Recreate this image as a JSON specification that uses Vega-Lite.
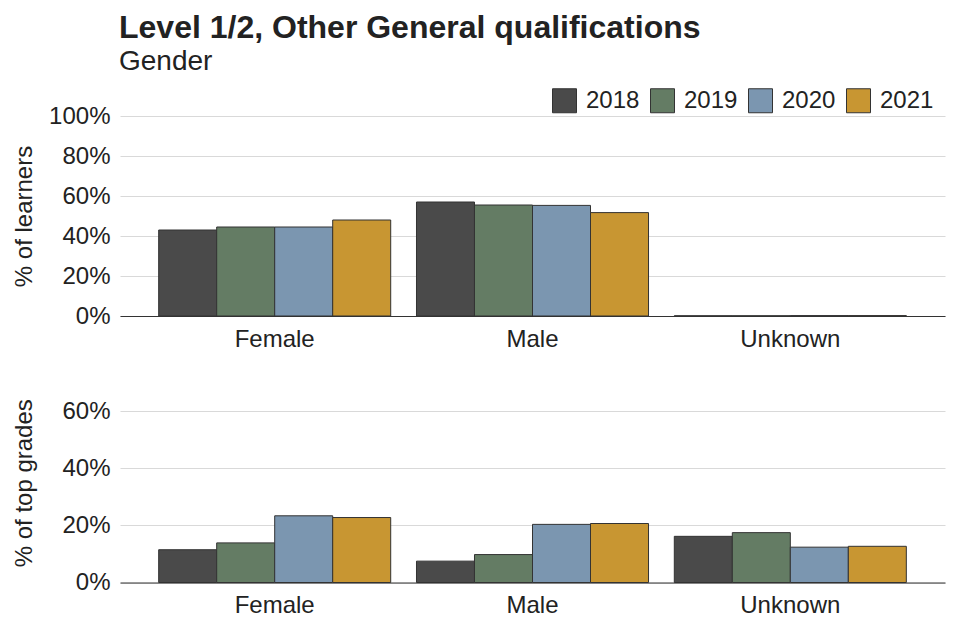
{
  "$schema": "https://vega.github.io/schema/vega-lite/v6.json",
  "background": "white",
  "padding": {"left": 11, "top": 12, "right": 15, "bottom": 0},
  "title": {
    "text": "Level 1/2, Other General qualifications",
    "subtitle": "Gender",
    "anchor": "start",
    "font": "Liberation Sans",
    "fontSize": 32,
    "fontWeight": "bold",
    "color": "#222222",
    "subtitleFont": "Liberation Sans",
    "subtitleFontSize": 28,
    "subtitleColor": "#222222",
    "subtitlePadding": 3,
    "dx": 107,
    "offset": 11
  },
  "datasets": {
    "d": [
      {"panel": "learners", "Gender": "Female", "Year": "2018", "value": 0.43},
      {"panel": "learners", "Gender": "Female", "Year": "2019", "value": 0.445},
      {"panel": "learners", "Gender": "Female", "Year": "2020", "value": 0.445},
      {"panel": "learners", "Gender": "Female", "Year": "2021", "value": 0.48},
      {"panel": "learners", "Gender": "Male", "Year": "2018", "value": 0.57},
      {"panel": "learners", "Gender": "Male", "Year": "2019", "value": 0.555},
      {"panel": "learners", "Gender": "Male", "Year": "2020", "value": 0.553},
      {"panel": "learners", "Gender": "Male", "Year": "2021", "value": 0.517},
      {"panel": "learners", "Gender": "Unknown", "Year": "2018", "value": 0.001},
      {"panel": "learners", "Gender": "Unknown", "Year": "2019", "value": 0.001},
      {"panel": "learners", "Gender": "Unknown", "Year": "2020", "value": 0.002},
      {"panel": "learners", "Gender": "Unknown", "Year": "2021", "value": 0.002},
      {"panel": "top", "Gender": "Female", "Year": "2018", "value": 0.115},
      {"panel": "top", "Gender": "Female", "Year": "2019", "value": 0.139},
      {"panel": "top", "Gender": "Female", "Year": "2020", "value": 0.234},
      {"panel": "top", "Gender": "Female", "Year": "2021", "value": 0.228},
      {"panel": "top", "Gender": "Male", "Year": "2018", "value": 0.075},
      {"panel": "top", "Gender": "Male", "Year": "2019", "value": 0.098},
      {"panel": "top", "Gender": "Male", "Year": "2020", "value": 0.204},
      {"panel": "top", "Gender": "Male", "Year": "2021", "value": 0.207},
      {"panel": "top", "Gender": "Unknown", "Year": "2018", "value": 0.162},
      {"panel": "top", "Gender": "Unknown", "Year": "2019", "value": 0.175},
      {"panel": "top", "Gender": "Unknown", "Year": "2020", "value": 0.124},
      {"panel": "top", "Gender": "Unknown", "Year": "2021", "value": 0.127}
    ]
  },
  "config": {
    "view": {"stroke": null},
    "font": "Liberation Sans",
    "axis": {
      "labelFont": "Liberation Sans",
      "titleFont": "Liberation Sans",
      "labelFontSize": 24,
      "titleFontSize": 24,
      "titleFontWeight": "normal",
      "labelColor": "#222222",
      "titleColor": "#222222"
    },
    "concat": {"spacing": 32}
  },
  "vconcat": [
    {
      "width": 825,
      "height": 200,
      "data": {"name": "d"},
      "transform": [{"filter": "datum.panel === 'learners'"}],
      "mark": {"type": "bar", "stroke": "#333333", "strokeWidth": 1},
      "encoding": {
        "x": {
          "field": "Gender", "type": "nominal",
          "scale": {"paddingInner": 0.1, "paddingOuter": 0.15},
          "axis": {"title": null, "labelAngle": 0, "ticks": false, "domainColor": "#333333", "domainWidth": 1.2, "labelPadding": 11}
        },
        "xOffset": {"field": "Year", "type": "nominal", "scale": {"paddingInner": 0}},
        "y": {
          "field": "value", "type": "quantitative",
          "scale": {"domain": [0, 1], "nice": false},
          "axis": {"title": "% of learners", "format": ".0%", "values": [0, 0.2, 0.4, 0.6, 0.8, 1], "domain": false, "ticks": false, "gridColor": "#d9d9d9", "labelPadding": 10, "titleX": -84}
        },
        "fill": {
          "field": "Year", "type": "nominal",
          "scale": {"domain": ["2018", "2019", "2020", "2021"], "range": ["#4a4a4a", "#647c64", "#7b96b0", "#c89632"]},
          "legend": {
            "title": null, "orient": "none", "direction": "horizontal",
            "legendX": 432, "legendY": -28,
            "symbolType": "square", "symbolSize": 576, "symbolStrokeColor": "#333333", "symbolStrokeWidth": 1,
            "labelFontSize": 24, "labelFont": "Liberation Sans", "labelColor": "#222222",
            "columnPadding": 8, "labelOffset": 9
          }
        }
      }
    },
    {
      "width": 825,
      "height": 199.5,
      "data": {"name": "d"},
      "transform": [{"filter": "datum.panel === 'top'"}],
      "mark": {"type": "bar", "stroke": "#333333", "strokeWidth": 1},
      "encoding": {
        "x": {
          "field": "Gender", "type": "nominal",
          "scale": {"paddingInner": 0.1, "paddingOuter": 0.15},
          "axis": {"title": null, "labelAngle": 0, "ticks": false, "domainColor": "#333333", "domainWidth": 1.2, "labelPadding": 11}
        },
        "xOffset": {"field": "Year", "type": "nominal", "scale": {"paddingInner": 0}},
        "y": {
          "field": "value", "type": "quantitative",
          "scale": {"domain": [0, 0.7], "nice": false},
          "axis": {"title": "% of top grades", "format": ".0%", "values": [0, 0.2, 0.4, 0.6], "domain": false, "ticks": false, "gridColor": "#d9d9d9", "labelPadding": 10, "titleX": -84}
        },
        "fill": {
          "field": "Year", "type": "nominal",
          "scale": {"domain": ["2018", "2019", "2020", "2021"], "range": ["#4a4a4a", "#647c64", "#7b96b0", "#c89632"]},
          "legend": null
        }
      }
    }
  ]
}
